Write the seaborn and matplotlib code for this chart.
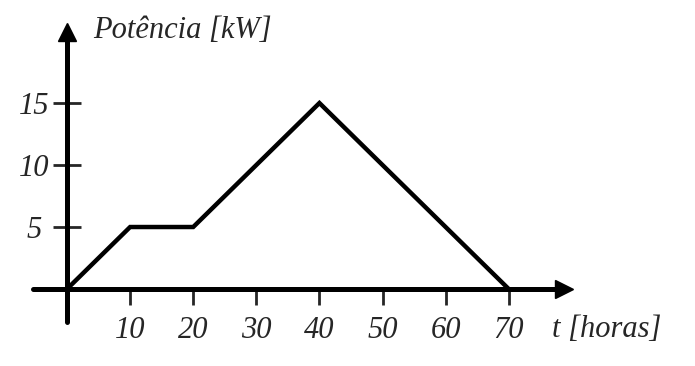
import matplotlib
matplotlib.use('Agg')
import matplotlib.pyplot as plt
import seaborn as sns
import pandas as pd

# data
t_horas = [0, 10, 20, 40, 70]
potencia_kw = [0, 5, 5, 15, 0]
x_ticks = [10, 20, 30, 40, 50, 60, 70]
y_ticks = [5, 10, 15]

sns.set_style('white')
plt.rcParams['font.family'] = ['Liberation Serif', 'DejaVu Serif']
plt.rcParams['font.style'] = 'italic'
plt.rcParams['font.size'] = 22

df = pd.DataFrame({'t': t_horas, 'p': potencia_kw})

fig = plt.figure(figsize=(6.95, 3.66), dpi=100)
ax = fig.add_axes([0, 0, 1, 1])
ax.patch.set_alpha(0)

sns.lineplot(data=df, x='t', y='p', ax=ax, color='black', linewidth=3.2,
             solid_joinstyle='miter', solid_capstyle='round')

# axis limits chosen so that the origin lands where it does in the picture
ax.set_xlim(-10.62, 99.52)
ax.set_ylim(-6.21, 23.31)

# axes through the origin
for side in ['top', 'right']:
    ax.spines[side].set_visible(False)
ax.spines['left'].set_position(('data', 0))
ax.spines['bottom'].set_position(('data', 0))
ax.spines['left'].set_bounds(-2.7, 20.2)
ax.spines['bottom'].set_bounds(-5.4, 77.5)
for side in ['left', 'bottom']:
    ax.spines[side].set_linewidth(3.6)
    ax.spines[side].set_color('black')
    ax.spines[side].set_capstyle('round')

# arrow heads
ax.plot([0], [20.7], marker='^', ms=13.5, color='black', clip_on=False)
ax.plot([78.8], [0], marker='>', ms=13.5, color='black', clip_on=False)

ax.set_xticks(x_ticks, [str(v) for v in x_ticks])
ax.set_yticks(y_ticks, [str(v) for v in y_ticks])
ax.tick_params(axis='x', direction='out', length=11.5, width=2, pad=8,
               bottom=True, labelsize=22)
ax.tick_params(axis='y', direction='inout', length=19.5, width=2, pad=14,
               left=True, labelsize=22)
plt.setp(ax.get_yticklabels(), ha='center')
ax.set_xlabel('')
ax.set_ylabel('')

fig.text(93 / 695, 1 - 38 / 366, 'Potência [kW]', fontsize=22,
         style='italic', va='baseline', ha='left')
fig.text(552 / 695, 1 - 337 / 366, 't [horas]', fontsize=22,
         style='italic', va='baseline', ha='left')

fig.savefig('out.png', dpi=100, facecolor='white')
